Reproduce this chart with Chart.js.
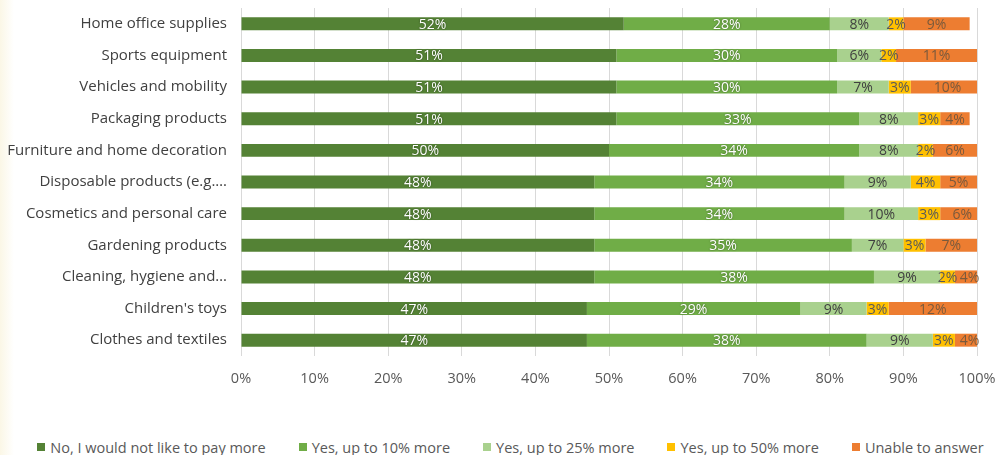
<!DOCTYPE html>
<html>
<head>
<meta charset="utf-8">
<title>Willingness to pay more</title>
<script src="https://cdn.jsdelivr.net/npm/chart.js@4/dist/chart.umd.min.js"></script>
<style>
  html, body { margin: 0; padding: 0; }
  body { background: linear-gradient(to right, #fbf7e6 0px, #ffffff 14px); }
  #page { width: 999px; height: 455px; position: relative; overflow: hidden; }
  #box { width: 999px; height: 413px; position: relative; }
  #legend {
    position: absolute; left: 22px; width: 977px; top: 437px; height: 20px;
    display: flex; justify-content: center; align-items: center; gap: 33px;
    font: 14.5px "Open Sans", "Liberation Sans", sans-serif; color: #595959;
  }
  #legend span.item { display: flex; align-items: center; white-space: nowrap; }
  #legend span.swatch { width: 8px; height: 8px; margin-right: 5px; }
</style>
</head>
<body>
<div id="page">
  <div id="box"><canvas id="payChart"></canvas></div>
  <div id="legend"></div>
</div>
<script>
// product groups, top to bottom
const categories = [
    "Home office supplies",
    "Sports equipment",
    "Vehicles and mobility",
    "Packaging products",
    "Furniture and home decoration",
    "Disposable products (e.g.\u2026",
    "Cosmetics and personal care",
    "Gardening products",
    "Cleaning, hygiene and\u2026",
    "Children's toys",
    "Clothes and textiles"
];

// answer shares in %
const noMore = [52, 51, 51, 51, 50, 48, 48, 48, 48, 47, 47];
const upTo10 = [28, 30, 30, 33, 34, 34, 34, 35, 38, 29, 38];
const upTo25 = [8, 6, 7, 8, 8, 9, 10, 7, 9, 9, 9];
const upTo50 = [2, 2, 3, 3, 2, 4, 3, 3, 2, 3, 3];
const unable = [9, 11, 10, 4, 6, 5, 6, 7, 4, 12, 4];

const seriesNames = [
    "No, I would not like to pay more",
    "Yes, up to 10% more",
    "Yes, up to 25% more",
    "Yes, up to 50% more",
    "Unable to answer"
];

const xTicks = [0, 10, 20, 30, 40, 50, 60, 70, 80, 90, 100];

const FONT = '"Open Sans", "Liberation Sans", sans-serif';

// writes the share in the middle of each segment
const segmentLabels = {
    id: "segmentLabels",
    afterDatasetsDraw(chart) {
        const ctx = chart.ctx;
        ctx.save();
        ctx.font = "14px " + FONT;
        ctx.textAlign = "center";
        ctx.textBaseline = "middle";
        chart.data.datasets.forEach((ds, i) => {
            const meta = chart.getDatasetMeta(i);
            if (meta.hidden) return;
            meta.data.forEach((bar, j) => {
                const x = (bar.x + bar.base) / 2;
                if (ds.labelShadow) {
                    ctx.shadowColor = "rgba(0,0,0,0.45)";
                    ctx.shadowBlur = 2;
                } else {
                    ctx.shadowColor = "transparent";
                    ctx.shadowBlur = 0;
                }
                ctx.fillStyle = ds.labelColor;
                ctx.fillText(ds.data[j] + "%", x, bar.y + 1);
            });
        });
        ctx.restore();
    }
};

function makeSet(label, data, color, labelColor, labelShadow) {
    return {
        label: label,
        data: data,
        backgroundColor: color,
        borderWidth: 0,
        barPercentage: 0.41,
        categoryPercentage: 1,
        labelColor: labelColor,
        labelShadow: labelShadow
    };
}

const payChart = new Chart(document.getElementById("payChart").getContext("2d"), {
    type: "bar",
    data: {
        labels: categories,
        datasets: [
            makeSet(seriesNames[0], noMore, "#548235", "#ffffff", true),
            makeSet(seriesNames[1], upTo10, "#70ad47", "#ffffff", true),
            makeSet(seriesNames[2], upTo25, "#a9d18e", "#404040", false),
            makeSet(seriesNames[3], upTo50, "#ffc000", "#595959", false),
            makeSet(seriesNames[4], unable, "#ed7d31", "#7a5a3c", false)
        ]
    },
    options: {
        indexAxis: "y",
        responsive: true,
        maintainAspectRatio: false,
        animation: false,
        layout: { padding: { top: 8, left: 0, right: 22, bottom: 0 } },
        plugins: {
            legend: { display: false },
            tooltip: { enabled: false }
        },
        scales: {
            x: {
                stacked: true,
                min: 0,
                max: 100,
                afterBuildTicks: scale => {
                    scale.ticks = xTicks.map(v => ({ value: v }));
                },
                afterFit: scale => {
                    scale.height = 57;
                    scale.paddingLeft = 0;
                    scale.paddingRight = 0;
                },
                grid: { color: "#d9d9d9", drawTicks: false },
                border: { display: false },
                ticks: {
                    padding: 14,
                    color: "#595959",
                    font: { family: FONT, size: 14.5 },
                    callback: v => v + "%"
                }
            },
            y: {
                stacked: true,
                afterFit: scale => {
                    scale.width = 241;
                    scale.paddingTop = 0;
                    scale.paddingBottom = 0;
                },
                grid: { display: false, drawTicks: false },
                border: { display: false },
                ticks: {
                    padding: 14,
                    color: "#404040",
                    font: { family: FONT, size: 15 }
                }
            }
        }
    },
    plugins: [segmentLabels]
});

// legend row under the chart, built from the datasets
const legendBox = document.getElementById("legend");
payChart.data.datasets.forEach(ds => {
    const item = document.createElement("span");
    item.className = "item";
    const swatch = document.createElement("span");
    swatch.className = "swatch";
    swatch.style.background = ds.backgroundColor;
    item.appendChild(swatch);
    item.appendChild(document.createTextNode(ds.label));
    legendBox.appendChild(item);
});
</script>
</body>
</html>
